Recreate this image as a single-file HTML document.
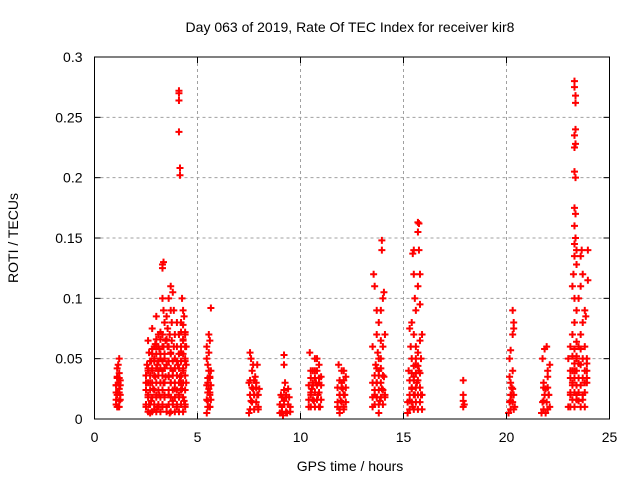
<!DOCTYPE html>
<html><head><meta charset="utf-8"><style>
body{margin:0;background:#fff}
svg{display:block;font-family:"Liberation Sans",sans-serif}
</style></head><body>
<svg id="chart" width="640" height="480" viewBox="0 0 640 480">
<rect x="0" y="0" width="640" height="480" fill="#fff"/>
<text x="350" y="32" font-size="14" text-anchor="middle">Day 063 of 2019, Rate Of TEC Index for receiver kir8</text>
<text x="350" y="471" font-size="14" text-anchor="middle">GPS time / hours</text>
<text x="18" y="238" font-size="14" text-anchor="middle" transform="rotate(-90 18 238)">ROTI / TECUs</text>
<g id="grid"></g>
<g id="points"></g>
<g id="axes"></g>
</svg>
<script>
const xTicks=[0,5,10,15,20,25];
const yTicks=[0,0.05,0.1,0.15,0.2,0.25,0.3];
const yTickLabels=["0","0.05","0.1","0.15","0.2","0.25","0.3"];
const c1=[[1.05,.012],[1.1,.02],[1.15,.03],[1.2,.025],[1.1,.035],[1.2,.015],[1.05,.028],[1.25,.02],[1.15,.045],[1.2,.05],[1.1,.042],[1.15,.01],[1.25,.032],[1.05,.022],[1.2,.038]];
const c2=[[2.5,.01],[2.6,.02],[2.7,.03],[2.8,.04],[2.9,.05],[3.0,.06],[3.1,.01],[2.55,.045],[2.65,.055],[2.75,.015],[2.85,.025],[2.95,.035],[3.05,.045],[3.15,.02],[2.6,.065],[2.8,.075],[3.0,.085],[3.1,.07],[2.7,.005],[2.9,.008],[3.2,.05],[3.2,.03],[2.5,.03],[2.6,.04],[2.8,.058],[3.0,.02],[3.1,.04],[2.75,.048],[2.95,.062],[3.15,.058],[2.65,.012],[3.05,.01]];
const c3=[[3.3,.125],[3.35,.13],[3.3,.128],[3.3,.1],[3.35,.09],[3.4,.08],[3.3,.07],[3.35,.06],[3.4,.05],[3.3,.04],[3.35,.03],[3.4,.02],[3.3,.01],[3.45,.065],[3.45,.035]];
const c4=[[3.5,.01],[3.6,.02],[3.7,.03],[3.8,.04],[3.9,.05],[3.55,.06],[3.65,.07],[3.75,.08],[3.85,.09],[3.6,.1],[3.7,.11],[3.8,.105],[3.5,.045],[3.6,.035],[3.7,.055],[3.8,.015],[3.9,.025],[3.55,.075],[3.65,.005],[3.75,.065],[3.85,.06],[3.9,.07],[3.5,.085],[3.7,.09]];
const c5=[[4.1,.27],[4.1,.272],[4.1,.264],[4.1,.238],[4.15,.208],[4.15,.202],[4.0,.01],[4.1,.02],[4.2,.03],[4.3,.04],[4.4,.05],[4.0,.06],[4.1,.07],[4.2,.08],[4.3,.09],[4.4,.07],[4.25,.1],[4.35,.085],[4.45,.06],[4.05,.045],[4.15,.035],[4.25,.025],[4.35,.015],[4.45,.03],[4.2,.055],[4.3,.065],[4.4,.01],[4.0,.08],[4.45,.045]];
const c6=[[5.45,.005],[5.5,.015],[5.55,.025],[5.6,.035],[5.5,.045],[5.55,.055],[5.45,.06],[5.6,.065],[5.55,.07],[5.65,.092],[5.6,.02],[5.5,.03],[5.65,.04],[5.45,.05],[5.6,.01]];
const c7=[[7.5,.005],[7.6,.015],[7.7,.025],[7.8,.035],[7.9,.045],[7.55,.055],[7.6,.05],[7.65,.04],[7.75,.02],[7.85,.03],[7.95,.01],[8.0,.025],[7.5,.03],[7.7,.045],[7.9,.02]];
const c8=[[9.0,.005],[9.1,.01],[9.2,.015],[9.3,.02],[9.4,.025],[9.5,.01],[9.2,.053],[9.2,.045],[9.25,.03],[9.05,.02],[9.35,.005],[9.45,.018],[9.15,.003]];
const c9=[[10.4,.01],[10.5,.02],[10.6,.03],[10.7,.04],[10.8,.05],[10.9,.045],[11.0,.035],[10.45,.055],[10.55,.025],[10.65,.015],[10.75,.03],[10.85,.02],[10.95,.01],[10.5,.04],[10.7,.05],[10.9,.03]];
const c10=[[11.8,.01],[11.9,.02],[12.0,.03],[12.1,.04],[12.2,.035],[11.85,.045],[11.95,.015],[12.05,.025],[12.15,.02],[11.9,.005],[12.0,.04],[12.1,.01]];
const c11=[[13.5,.01],[13.6,.02],[13.7,.03],[13.8,.04],[13.9,.05],[14.0,.06],[14.1,.07],[13.55,.12],[13.6,.11],[13.7,.09],[13.8,.08],[13.9,.065],[14.0,.1],[14.05,.105],[13.95,.148],[13.95,.14],[13.65,.045],[13.75,.055],[13.85,.015],[13.95,.025],[14.05,.035],[13.5,.06],[13.7,.07],[13.9,.09],[14.1,.02],[13.8,.005]];
const c12=[[15.2,.005],[15.3,.015],[15.4,.025],[15.5,.035],[15.6,.045],[15.7,.055],[15.8,.065],[15.3,.075],[15.4,.08],[15.5,.14],[15.45,.137],[15.5,.12],[15.55,.1],[15.6,.09],[15.7,.163],[15.75,.162],[15.7,.155],[15.75,.14],[15.8,.12],[15.7,.11],[15.8,.095],[15.9,.07],[15.85,.05],[15.25,.04],[15.35,.06],[15.45,.01],[15.55,.02],[15.65,.03],[15.75,.04],[15.85,.02],[15.6,.06],[15.5,.07]];
const c13=[[17.9,.032],[17.9,.02],[17.9,.015],[17.9,.01],[17.95,.012]];
const c14=[[20.1,.005],[20.2,.015],[20.3,.025],[20.4,.01],[20.2,.03],[20.3,.04],[20.15,.05],[20.2,.057],[20.3,.07],[20.35,.08],[20.3,.09],[20.35,.075],[20.25,.02],[20.15,.035]];
const c15=[[21.7,.005],[21.8,.015],[21.9,.025],[22.0,.035],[22.1,.045],[21.75,.05],[21.85,.058],[21.95,.06],[22.05,.02],[22.1,.01],[21.8,.03],[22.0,.04],[21.9,.005]];
const c16=[[23.3,.28],[23.3,.275],[23.35,.268],[23.35,.262],[23.35,.24],[23.3,.235],[23.3,.225],[23.35,.228],[23.3,.205],[23.35,.2],[23.3,.175],[23.35,.17],[23.3,.16],[23.35,.15],[23.3,.145],[23.4,.14],[23.3,.135],[23.4,.128],[23.0,.01],[23.1,.02],[23.2,.03],[23.3,.04],[23.4,.05],[23.5,.06],[23.6,.07],[23.7,.08],[23.8,.09],[23.9,.04],[23.0,.05],[23.1,.06],[23.2,.07],[23.3,.08],[23.4,.09],[23.5,.1],[23.6,.11],[23.7,.12],[23.6,.135],[23.65,.14],[23.95,.14],[23.95,.115],[23.8,.06],[23.9,.03],[23.7,.02],[23.5,.015],[23.2,.11],[23.25,.12],[23.3,.1],[23.6,.045],[23.8,.03],[23.9,.05],[23.7,.05],[23.4,.02],[23.1,.04],[23.85,.085]];
const d1=[[.01,[1.1,1.2]],[.016,[1.05,1.25]],[.022,[1.1,1.2]],[.028,[1.05,1.25]],[.034,[1.1,1.2]]];
const d2=[[.006,[2.6,2.8,3.0,3.2,3.5,3.7,3.9,4.1,4.3]],[.012,[2.5,2.7,2.9,3.1,3.3,3.6,3.8,4.0,4.2,4.4]],[.018,[2.6,2.8,3.0,3.2,3.4,3.7,3.9,4.1,4.3]],[.024,[2.5,2.7,2.9,3.1,3.3,3.6,3.8,4.0,4.2,4.4]],[.03,[2.6,2.8,3.0,3.2,3.4,3.7,3.9,4.1,4.3]],[.036,[2.5,2.7,2.9,3.1,3.3,3.6,3.8,4.0,4.2,4.4]],[.042,[2.6,2.8,3.0,3.2,3.4,3.7,3.9,4.1,4.3]],[.048,[2.7,2.9,3.1,3.3,3.6,3.8,4.0,4.2,4.4]],[.054,[2.8,3.0,3.2,3.4,3.7,4.1,4.3]],[.06,[2.9,3.1,3.3,3.6,4.2,4.4]],[.066,[3.0,3.2,3.5,4.3]],[.072,[3.2,4.2,4.4]],[.078,[4.3]]];
const d3=[[.01,[5.5,5.6]],[.016,[5.45,5.65]],[.022,[5.5,5.6]],[.028,[5.45,5.65]],[.034,[5.5,5.6]],[.04,[5.55]]];
const d4=[[.008,[7.55,7.75,7.95]],[.014,[7.65,7.85]],[.02,[7.55,7.75,7.95]],[.026,[7.65,7.85]],[.032,[7.55,7.75]]];
const d5=[[.006,[9.1,9.3,9.5]],[.012,[9.0,9.2,9.4]],[.018,[9.1,9.3]],[.024,[9.2]]];
const d6=[[.01,[10.5,10.7,10.9]],[.016,[10.4,10.6,10.8,11.0]],[.022,[10.5,10.7,10.9]],[.028,[10.4,10.6,10.8,11.0]],[.034,[10.5,10.7,10.9]],[.04,[10.6,10.8]]];
const d7=[[.008,[11.9,12.1]],[.014,[11.8,12.0,12.2]],[.02,[11.9,12.1]],[.026,[11.8,12.0,12.2]],[.032,[11.9,12.1]]];
const d8=[[.012,[13.6,13.8,14.0]],[.018,[13.5,13.7,13.9,14.1]],[.024,[13.6,13.8,14.0]],[.03,[13.5,13.7,13.9]],[.036,[13.6,13.8,14.0]],[.042,[13.7,13.9]],[.05,[13.8]]];
const d9=[[.008,[15.3,15.5,15.7,15.9]],[.014,[15.2,15.4,15.6,15.8]],[.02,[15.3,15.5,15.7,15.9]],[.026,[15.4,15.6,15.8]],[.032,[15.3,15.5,15.7]],[.038,[15.4,15.6,15.8]],[.044,[15.5,15.7]],[.05,[15.4,15.6]]];
const d10=[[.008,[20.2,20.35]],[.014,[20.15,20.3]],[.02,[20.2,20.35]],[.026,[20.25]]];
const d11=[[.008,[21.8,22.0]],[.014,[21.75,21.95]],[.02,[21.85,22.05]],[.026,[21.8,22.0]]];
const d12=[[.01,[23.1,23.3,23.6,23.8]],[.016,[23.2,23.4,23.7]],[.022,[23.1,23.3,23.5,23.8]],[.028,[23.2,23.4,23.6]],[.034,[23.1,23.3,23.5,23.7,23.9]],[.04,[23.2,23.4,23.8]],[.046,[23.3,23.5,23.9]],[.052,[23.2,23.4]],[.058,[23.3,23.6]],[.064,[23.4]]];
const clusters=[c1,c2,c3,c4,c5,c6,c7,c8,c9,c10,c11,c12,c13,c14,c15,c16];
const denseRows=[d1,d2,d3,d4,d5,d6,d7,d8,d9,d10,d11,d12];

const L=94.5,R=609.5,T=57,B=419;
const xS=v=>L+(v-0)/25*(R-L);
const yS=v=>B-(v/0.3)*(B-T);
const NS="http://www.w3.org/2000/svg";
function mk(tag,attrs,parent){const e=document.createElementNS(NS,tag);for(const k in attrs)e.setAttribute(k,attrs[k]);parent.appendChild(e);return e;}
const grid=document.getElementById('grid'),axes=document.getElementById('axes'),pts=document.getElementById('points');
xTicks.forEach((t,i)=>{
  const x=xS(t);
  if(i>0&&i<xTicks.length-1){const g=mk('line',{x1:x,y1:T,x2:x,y2:B,stroke:'#a0a0a0','stroke-dasharray':'3,3','stroke-width':1},grid);
  
  }
  mk('line',{x1:x,y1:B,x2:x,y2:B-6,stroke:'#000'},axes);
  mk('line',{x1:x,y1:T,x2:x,y2:T+6,stroke:'#000'},axes);
  const tx=mk('text',{x:x,y:B+23,'font-size':14,'text-anchor':'middle'},axes);
  tx.textContent=String(t);
  
  
});
yTicks.forEach((t,i)=>{
  const y=yS(t);
  if(i>0&&i<yTicks.length-1){const g=mk('line',{x1:L,y1:y,x2:R,y2:y,stroke:'#a0a0a0','stroke-dasharray':'3,3','stroke-width':1},grid);
  
  }
  mk('line',{x1:L,y1:y,x2:L+6,y2:y,stroke:'#000'},axes);
  mk('line',{x1:R,y1:y,x2:R-6,y2:y,stroke:'#000'},axes);
  const tx=mk('text',{x:L-12,y:y+5,'font-size':14,'text-anchor':'end'},axes);
  tx.textContent=yTickLabels[i];
  
  
});
const frame=mk('rect',{x:L,y:T,width:R-L,height:B-T,fill:'none',stroke:'#000','stroke-width':1},axes);


function plus(t,v){
  const x=xS(t),y=yS(v);
  const m=mk('path',{d:`M${x-3.5},${y}H${x+3.5}M${x},${y-3.5}V${y+3.5}`,stroke:'#ff0000','stroke-width':2},pts);
  
  
}
clusters.forEach(c=>c.forEach(p=>plus(p[0],p[1])));
denseRows.forEach(d=>d.forEach(row=>row[1].forEach(t=>plus(t,row[0]))));
</script>
</body></html>
